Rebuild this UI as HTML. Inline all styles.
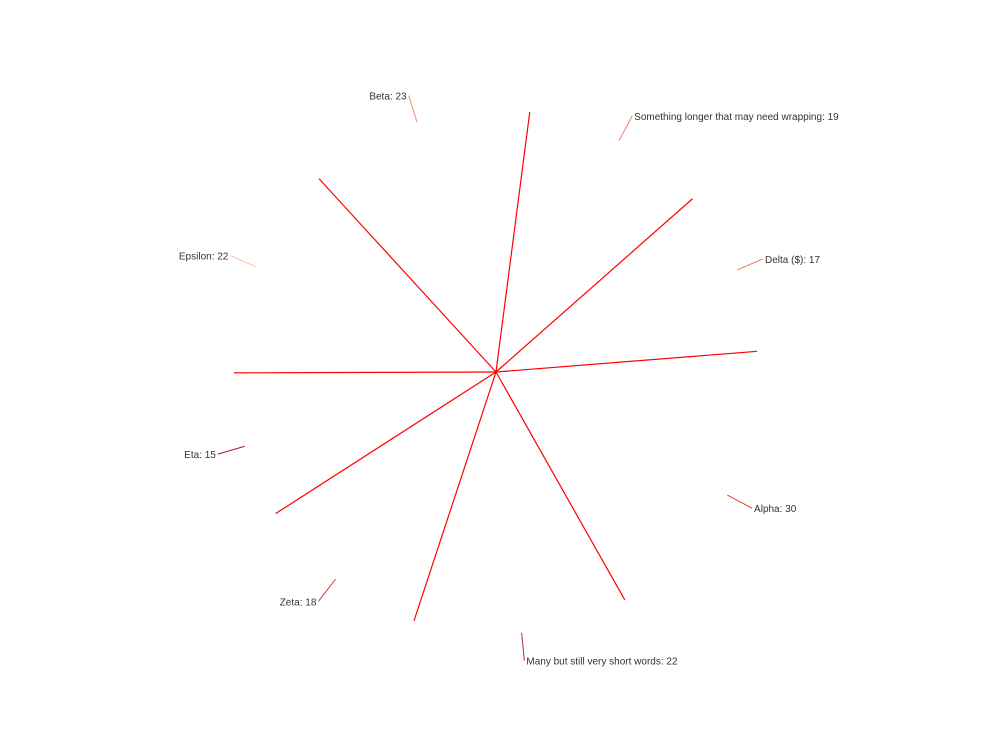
<!DOCTYPE html>
<html><head><meta charset="utf-8"><style>
html,body{margin:0;padding:0;background:#fff;}
svg text{font-family:"Liberation Sans",sans-serif;font-size:10px;fill:#333;}
</style></head><body>
<svg id="chart" width="992" height="744" xmlns="http://www.w3.org/2000/svg"></svg>
<script>
const categories = ["Something longer that may need wrapping","Delta ($)","Alpha","Many but still very short words","Zeta","Eta","Epsilon","Beta"];
const values = [19,17,30,22,18,15,22,23];
const leaderColors = ["#f08070","#f07a60","#e04030","#b03030","#c04040","#a01830","#ffc0a0","#f09070"];
const cx=496, cy=372, R=262, startDeg=7.4;
const svg=document.getElementById('chart');
const NS='http://www.w3.org/2000/svg';
const total=values.reduce((a,b)=>a+b,0);
function pt(deg,r){const a=deg*Math.PI/180;return [cx+r*Math.sin(a),cy-r*Math.cos(a)];}
let acc=0;
for(let i=0;i<values.length;i++){
  const a0=startDeg+acc/total*360;
  const p=pt(a0,R);
  const ln=document.createElementNS(NS,'line');
  
  
  ln.setAttribute('x1',cx);ln.setAttribute('y1',cy);ln.setAttribute('x2',p[0]);ln.setAttribute('y2',p[1]);
  ln.setAttribute('stroke','#ff0000');ln.setAttribute('stroke-width','1.2');
  svg.appendChild(ln);
  const mid=a0+values[i]/total*180;
  const q0=pt(mid,R), q1=pt(mid,R+28);
  const ld=document.createElementNS(NS,'line');
  
  
  ld.setAttribute('x1',q0[0]);ld.setAttribute('y1',q0[1]);ld.setAttribute('x2',q1[0]);ld.setAttribute('y2',q1[1]);
  ld.setAttribute('stroke',leaderColors[i]);ld.setAttribute('stroke-width','1');
  svg.appendChild(ld);
  const right=Math.sin(mid*Math.PI/180)>=0;
  const t=document.createElementNS(NS,'text');
  
  
  t.setAttribute('x',q1[0]+(right?2:-2));t.setAttribute('y',q1[1]+4);
  t.setAttribute('text-anchor',right?'start':'end');
  t.textContent=categories[i]+': '+values[i];
  svg.appendChild(t);
  acc+=values[i];
}
</script>
</body></html>
